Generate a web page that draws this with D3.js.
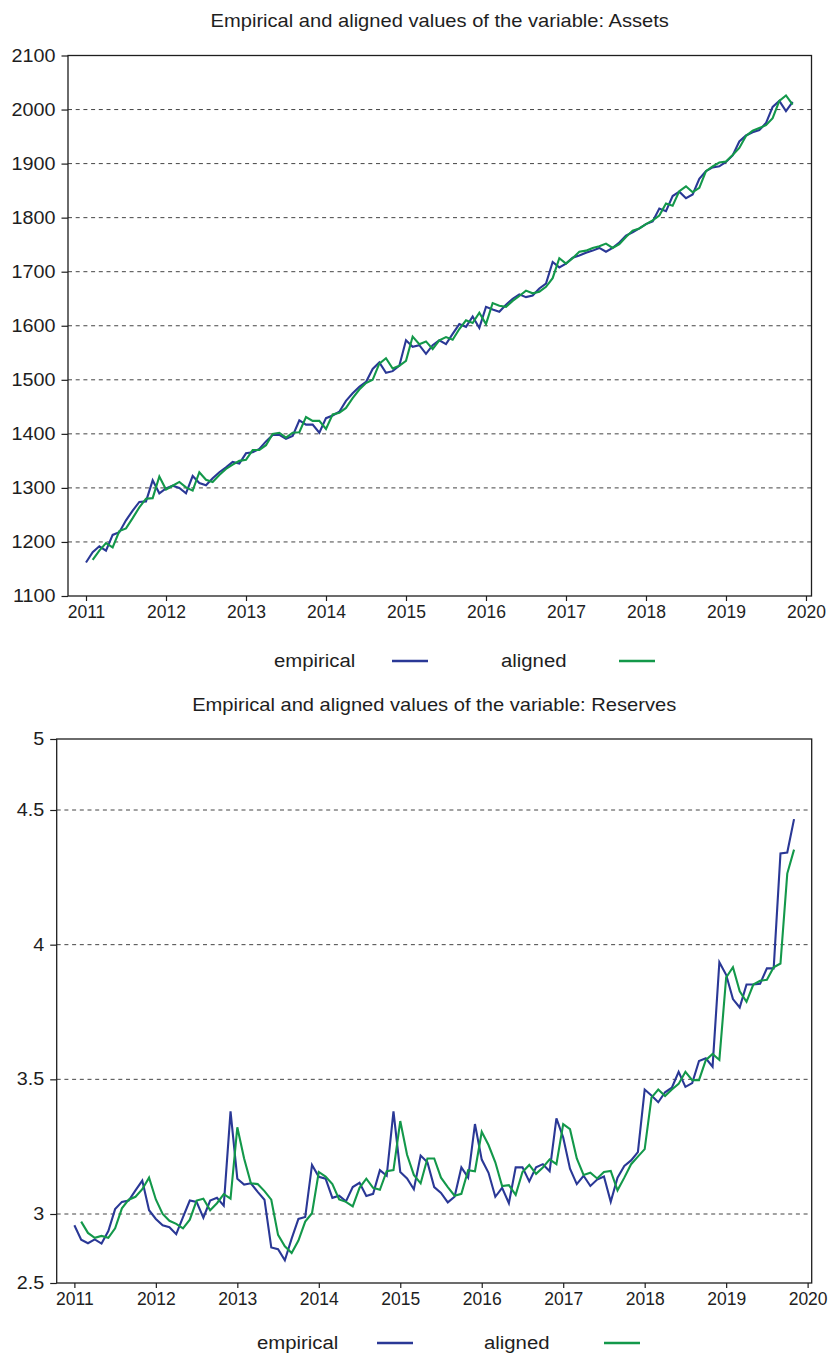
<!DOCTYPE html>
<html>
<head>
<meta charset="utf-8">
<script src="https://cdn.jsdelivr.net/npm/d3@7"></script>
<style>
  body { margin: 0; background: #fff; }
  svg { display: block; font-family: "Liberation Sans", Arial, sans-serif; }
</style>
</head>
<body>
<svg id="chart" width="831" height="1357"></svg>
<script>
// Monthly series, first empirical observation in January 2011;
// the aligned series starts one month later (February 2011).
const startYear = 2011;
const alignedLagMonths = 1;

const assetsEmpirical = [
  1162, 1181, 1192, 1184, 1213, 1218, 1240, 1258, 1274, 1275, 1314, 1290,
  1299, 1304, 1300, 1290, 1322, 1309, 1305, 1318, 1329, 1338, 1348, 1345,
  1364, 1366, 1372, 1386, 1398, 1398, 1391, 1396, 1425, 1417, 1417, 1402,
  1429, 1434, 1441, 1461, 1475, 1487, 1496, 1520, 1532, 1513, 1516, 1526,
  1573, 1561, 1564, 1548, 1564, 1573, 1566, 1585, 1603, 1598, 1617, 1596,
  1635, 1630, 1626, 1639, 1650, 1658, 1653, 1656, 1669, 1678, 1718, 1708,
  1715, 1726, 1730, 1735, 1739, 1744, 1737, 1744, 1754, 1767, 1773, 1780,
  1788, 1793, 1817, 1812, 1840, 1848, 1836, 1843, 1872, 1886, 1893, 1895,
  1903, 1915, 1941, 1952, 1958, 1962, 1975, 2005, 2016, 1997, 2014
];
const assetsAligned = [
        1167, 1184, 1198, 1190, 1220, 1225, 1244, 1264, 1280, 1281, 1321,
  1297, 1304, 1311, 1301, 1295, 1329, 1315, 1311, 1324, 1335, 1343, 1350,
  1352, 1370, 1370, 1379, 1400, 1402, 1393, 1402, 1403, 1431, 1424, 1424,
  1409, 1436, 1439, 1448, 1466, 1482, 1494, 1500, 1530, 1540, 1521, 1526,
  1535, 1580, 1566, 1571, 1557, 1573, 1579, 1574, 1594, 1610, 1605, 1624,
  1603, 1642, 1637, 1635, 1646, 1655, 1665, 1660, 1663, 1672, 1688, 1725,
  1715, 1725, 1737, 1739, 1744, 1747, 1752, 1744, 1751, 1764, 1776, 1780,
  1788, 1795, 1804, 1826, 1822, 1849, 1858, 1847, 1855, 1886, 1895, 1902,
  1904, 1916, 1929, 1951, 1961, 1966, 1971, 1984, 2016, 2026, 2009
];
const reservesEmpirical = [
  2.918, 2.813, 2.788, 2.816, 2.786, 2.876, 3.018, 3.045, 3.050, 3.088, 3.124, 3.014,
  2.964, 2.918, 2.904, 2.854, 2.978, 3.050, 3.045, 2.973, 3.050, 3.060, 3.031, 3.381,
  3.131, 3.109, 3.114, 3.082, 3.053, 2.758, 2.745, 2.665, 2.821, 2.964, 2.978, 3.182,
  3.138, 3.131, 3.060, 3.068, 3.047, 3.100, 3.116, 3.067, 3.075, 3.163, 3.142, 3.381,
  3.156, 3.132, 3.092, 3.217, 3.192, 3.100, 3.078, 3.043, 3.064, 3.173, 3.135, 3.334,
  3.202, 3.153, 3.064, 3.097, 3.040, 3.173, 3.173, 3.121, 3.173, 3.185, 3.159, 3.355,
  3.284, 3.168, 3.111, 3.142, 3.104, 3.128, 3.139, 3.045, 3.135, 3.178, 3.199, 3.230,
  3.462, 3.440, 3.415, 3.452, 3.469, 3.528, 3.472, 3.486, 3.568, 3.578, 3.547, 3.935,
  3.888, 3.798, 3.767, 3.852, 3.852, 3.855, 3.912, 3.912, 4.339, 4.342, 4.466
];
const reservesAligned = [
         2.945, 2.863, 2.827, 2.841, 2.827, 2.896, 3.021, 3.053, 3.064, 3.092, 3.135,
  3.054, 3.000, 2.951, 2.929, 2.896, 2.959, 3.050, 3.057, 3.014, 3.040, 3.074, 3.057,
  3.322, 3.206, 3.114, 3.111, 3.085, 3.053, 2.849, 2.766, 2.717, 2.808, 2.945, 3.003,
  3.156, 3.139, 3.111, 3.054, 3.045, 3.028, 3.097, 3.131, 3.097, 3.090, 3.159, 3.163,
  3.345, 3.220, 3.145, 3.114, 3.206, 3.206, 3.135, 3.100, 3.068, 3.075, 3.163, 3.159,
  3.305, 3.256, 3.192, 3.104, 3.107, 3.071, 3.156, 3.182, 3.149, 3.173, 3.203, 3.185,
  3.334, 3.315, 3.206, 3.145, 3.153, 3.132, 3.156, 3.160, 3.088, 3.135, 3.185, 3.213,
  3.241, 3.432, 3.462, 3.438, 3.462, 3.483, 3.528, 3.497, 3.497, 3.571, 3.594, 3.572,
  3.878, 3.916, 3.827, 3.788, 3.852, 3.866, 3.870, 3.916, 3.930, 4.264, 4.353
];

const yearTicks = [2011, 2012, 2013, 2014, 2015, 2016, 2017, 2018, 2019, 2020];
const assetsTicks = [1100, 1200, 1300, 1400, 1500, 1600, 1700, 1800, 1900, 2000, 2100];
const assetsGrid = [1200, 1300, 1400, 1500, 1600, 1700, 1800, 1900, 2000];
const reservesTicks = [2.5, 3, 3.5, 4, 4.5, 5];
const reservesGrid = [3, 3.5, 4, 4.5];
const seriesNames = ["empirical", "aligned"];
const titles = [
  "Empirical and aligned values of the variable: Assets",
  "Empirical and aligned values of the variable: Reserves"
];

const COLORS = { empirical: "#2a3896", aligned: "#13984a" };
const INK = "#1e1e1e";

const svg = d3.select("#chart");

// Glyphs in this figure are set slightly wide; stretch text horizontally
// while keeping each anchor point where it was.
function stretch(sel, sx) {
  sel.each(function () {
    const t = d3.select(this);
    const x = +t.attr("x") || 0;
    t.attr("x", x / sx).attr("transform", `scale(${sx},1)`);
  });
}

function drawPanel(cfg) {
  const g = svg.append("g");
  const x = d3.scaleLinear().domain(cfg.xDomain).range([cfg.left, cfg.right]);
  const y = cfg.y;

  // title
  const title = g.append("text")
    .attr("x", (cfg.left + cfg.right) / 2)
    .attr("y", cfg.titleY)
    .attr("text-anchor", "middle")
    .attr("fill", INK)
    .style("font-size", "17.5px")
    .text(cfg.title);
  stretch(title, 1.15);

  // dashed horizontal grid
  g.append("g").selectAll("line").data(cfg.grid).join("line")
    .attr("x1", cfg.left).attr("x2", cfg.right)
    .attr("y1", d => y(d)).attr("y2", d => y(d))
    .attr("stroke", "#444").attr("stroke-width", 1)
    .attr("stroke-dasharray", "4,3.7");

  // y axis
  const yAxis = g.append("g")
    .attr("transform", `translate(${cfg.left},0)`)
    .call(d3.axisLeft(y).tickValues(cfg.yTicks).tickSize(6.5).tickSizeOuter(0)
      .tickPadding(6).tickFormat(cfg.yFormat));
  yAxis.select(".domain").remove();
  yAxis.selectAll(".tick line").attr("stroke", INK).attr("stroke-width", 1.2);
  yAxis.selectAll(".tick text").attr("fill", INK).style("font-size", "17.5px")
    .call(stretch, 1.13);

  // x axis
  const xAxis = g.append("g")
    .attr("transform", `translate(0,${cfg.bottom})`)
    .call(d3.axisBottom(x).tickValues(yearTicks).tickSize(5).tickSizeOuter(0)
      .tickPadding(5).tickFormat(d3.format("d")));
  xAxis.select(".domain").remove();
  xAxis.selectAll(".tick line").attr("stroke", INK).attr("stroke-width", 1.2);
  xAxis.selectAll(".tick text").attr("fill", INK).style("font-size", "17.5px");

  // plot frame
  g.append("rect")
    .attr("x", cfg.left).attr("y", cfg.top)
    .attr("width", cfg.right - cfg.left).attr("height", cfg.bottom - cfg.top)
    .attr("fill", "none").attr("stroke", INK).attr("stroke-width", 1.3);

  // series
  const series = [
    { name: "empirical", values: cfg.empirical, offset: 0 },
    { name: "aligned", values: cfg.aligned, offset: alignedLagMonths }
  ];
  const line = (offset) => d3.line()
    .x((d, i) => x(startYear + (i + offset) / 12))
    .y(d => y(d));
  g.append("g").selectAll("path").data(series).join("path")
    .attr("d", s => line(s.offset)(s.values))
    .attr("fill", "none")
    .attr("stroke", s => COLORS[s.name])
    .attr("stroke-width", 2.1)
    .attr("stroke-linejoin", "miter");

  // legend
  const lg = g.append("g");
  seriesNames.forEach((name, i) => {
    const L = cfg.legend[i];
    const t = lg.append("text")
      .attr("x", L.text).attr("y", cfg.legendY + 6)
      .attr("fill", INK).style("font-size", "18px")
      .text(name);
    stretch(t, 1.13);
    lg.append("line")
      .attr("x1", L.line).attr("x2", L.line + 36)
      .attr("y1", cfg.legendY).attr("y2", cfg.legendY)
      .attr("stroke", COLORS[name]).attr("stroke-width", 2.4);
  });
}

drawPanel({
  title: titles[0], titleY: 27,
  left: 68, right: 811.5, top: 55.5, bottom: 596,
  xDomain: [2010.775, 2020.069],
  y: d3.scaleLinear().domain([1100, 2100]).range([596, 55.5]),
  yTicks: assetsTicks, grid: assetsGrid, yFormat: d3.format("d"),
  empirical: assetsEmpirical, aligned: assetsAligned,
  legendY: 661, legend: [{ text: 274, line: 392 }, { text: 501, line: 619 }]
});

drawPanel({
  title: titles[1], titleY: 711,
  left: 56.7, right: 811.7, top: 739, bottom: 1283,
  xDomain: [2010.783, 2020.05],
  // value axis as labelled: the outer labels sit closer to the first/last gridline
  y: d3.scaleLinear().domain([2.5, 3, 4.5, 5]).range([1283, 1214, 810, 739]),
  yTicks: reservesTicks, grid: reservesGrid, yFormat: d => String(d),
  empirical: reservesEmpirical, aligned: reservesAligned,
  legendY: 1343, legend: [{ text: 257, line: 377 }, { text: 484, line: 604 }]
});
</script>
</body>
</html>
